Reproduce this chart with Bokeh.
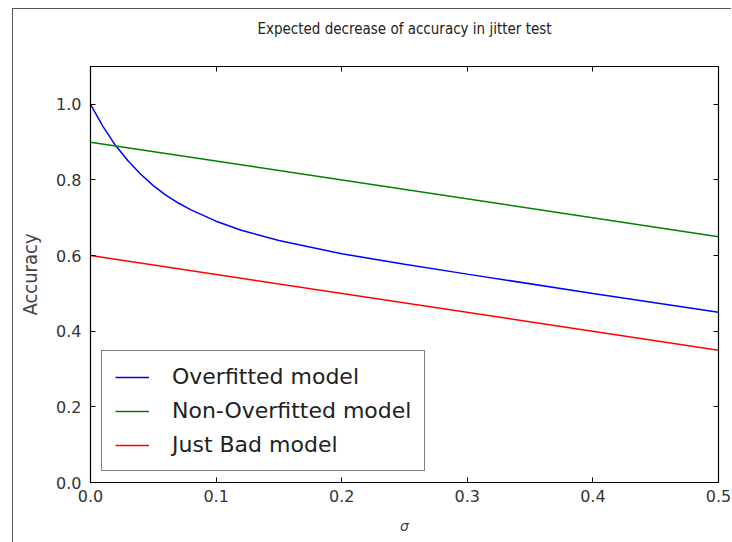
from bokeh.plotting import figure
from bokeh.models import LinearAxis, Range1d, FixedTicker, Legend, LegendItem, PrintfTickFormatter
from bokeh.embed import file_html
from bokeh.resources import INLINE

# data
sigma_over = [0.0, 0.01, 0.02, 0.03, 0.04, 0.05, 0.06, 0.07, 0.08, 0.10, 0.12, 0.15, 0.20, 0.25, 0.30, 0.40, 0.50]
acc_over = [1.0, 0.941, 0.891, 0.850, 0.815, 0.785, 0.760, 0.739, 0.721, 0.691, 0.667, 0.640, 0.605, 0.577, 0.551, 0.500, 0.450]
sigma_lin = [0.0, 0.5]
acc_nonover = [0.90, 0.65]
acc_bad = [0.60, 0.35]
labels = ["Overfitted model", "Non-Overfitted model", "Just Bad model"]
x_ticks = [0.0, 0.1, 0.2, 0.3, 0.4, 0.5]
y_ticks = [0.0, 0.2, 0.4, 0.6, 0.8, 1.0]

FONT = "DejaVu Sans"
CFONT = "'DejaVu Sans Condensed', 'DejaVu Sans'"

p = figure(width=719, height=534, output_backend="svg", toolbar_location=None,
           x_range=Range1d(0, 0.5), y_range=Range1d(0, 1.1),
           min_border_left=77, min_border_right=14, min_border_top=56, min_border_bottom=61)
p.margin = (8, 0, 0, 12)
p.styles = {"border-left": "1px solid #555555", "border-top": "1px solid #555555"}
p.outline_line_color = "black"
p.outline_line_width = 1.2
p.xgrid.visible = False
p.ygrid.visible = False
p.background_fill_color = "white"
p.border_fill_color = "white"

p.title.text = "Expected decrease of accuracy in jitter test"
p.title.align = "center"
p.title.text_font = CFONT
p.title.text_font_style = "normal"
p.title.text_font_size = "15px"
p.title.text_color = "#222222"
p.title.offset = 0
p.title.standoff = 16

def style_axis(ax, show_labels=True):
    ax.axis_line_color = "black"
    ax.major_tick_in = 5
    ax.major_tick_out = 0
    ax.minor_tick_line_color = None
    ax.major_tick_line_color = "black"
    ax.major_label_text_font = FONT
    ax.major_label_text_font_size = "16px"
    ax.major_label_text_color = "#333333"
    ax.formatter = PrintfTickFormatter(format="%.1f")
    if not show_labels:
        ax.major_label_text_font_size = "0px"
        ax.major_label_text_color = None

xa = p.xaxis[0]
xa.ticker = FixedTicker(ticks=x_ticks)
style_axis(xa)
xa.major_label_standoff = 7
xa.axis_label = "σ"
xa.axis_label_text_font = FONT
xa.axis_label_text_font_style = "italic"
xa.axis_label_text_font_size = "14px"
xa.axis_label_standoff = 13

ya = p.yaxis[0]
ya.ticker = FixedTicker(ticks=y_ticks)
style_axis(ya)
ya.major_label_standoff = 9
ya.axis_label = "Accuracy"
ya.axis_label_text_font = CFONT
ya.axis_label_text_font_style = "normal"
ya.axis_label_text_font_size = "20px"
ya.axis_label_standoff = 11

top = LinearAxis(ticker=FixedTicker(ticks=x_ticks))
style_axis(top, False)
top.major_label_standoff = 0
top.axis_label = " "
top.axis_label_text_font_size = "14px"
top.axis_label_text_color = None
top.axis_label_standoff = 2
p.add_layout(top, "above")
right = LinearAxis(ticker=FixedTicker(ticks=y_ticks))
style_axis(right, False)
p.add_layout(right, "right")

r1 = p.line(sigma_over, acc_over, line_color="#0000ff", line_width=1.5)
r2 = p.line(sigma_lin, acc_nonover, line_color="#008000", line_width=1.5)
r3 = p.line(sigma_lin, acc_bad, line_color="#ff0000", line_width=1.5)

legend = Legend(items=[LegendItem(label=labels[0], renderers=[r1]),
                       LegendItem(label=labels[1], renderers=[r2]),
                       LegendItem(label=labels[2], renderers=[r3])],
                location="bottom_left")
legend.margin = 11
legend.padding = 13
legend.spacing = 9
legend.glyph_width = 34
legend.label_standoff = 23
legend.label_text_font = FONT
legend.label_text_font_size = "22px"
legend.label_text_color = "#222222"
legend.border_line_color = "black"
legend.border_line_width = 1.5
legend.background_fill_alpha = 1.0
p.add_layout(legend, "center")

open("out.html", "w").write(file_html(p, INLINE))
